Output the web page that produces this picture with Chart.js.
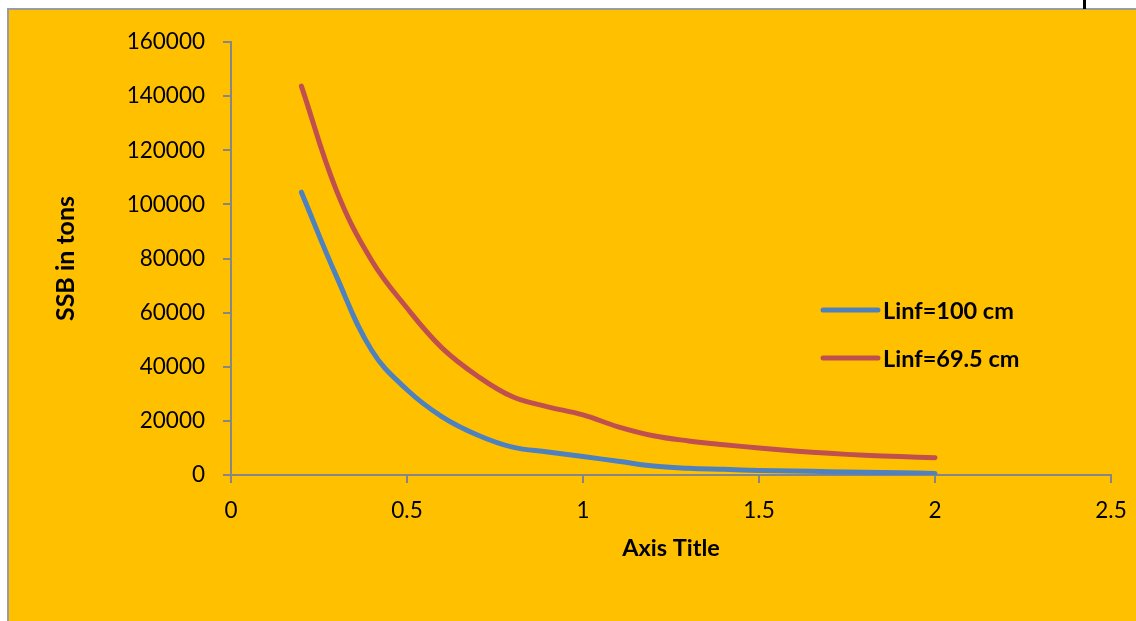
<!DOCTYPE html>
<html>
<head>
<meta charset="utf-8">
<script src="https://cdn.jsdelivr.net/npm/chart.js@4.4.1/dist/chart.umd.min.js"></script>
<style>
  html, body { margin: 0; padding: 0; background: #ffffff; width: 1136px; height: 621px; overflow: hidden; }
  #frame { position: absolute; left: 7px; top: 8px; width: 1129px; height: 613px; box-sizing: border-box;
           border-top: 2px solid #9c9c9c; border-left: 2px solid #9c9c9c; background: #FFC000; }
  #mark { position: absolute; left: 1083px; top: 0; width: 3px; height: 9px; background: #000000; }
  #wrap { position: absolute; left: 9px; top: 10px; width: 1127px; height: 611px; }
</style>
</head>
<body>
<div id="frame"></div>
<div id="mark"></div>
<div id="wrap"><canvas id="c" width="1127" height="611"></canvas></div>
<script>
// x values of the two SSB curves
const xValues = [0.2, 0.3, 0.4, 0.5, 0.6, 0.7, 0.8, 0.9, 1.0, 1.1, 1.2, 1.3, 1.4, 1.5, 1.6, 1.7, 1.8, 1.9, 2.0];
// spawning stock biomass (tons) for each asymptotic length
const ssbLinf100 = [104500, 73300, 46000, 31500, 21500, 14800, 10300, 8500, 6800, 5100, 3300, 2500, 2100, 1700, 1500, 1200, 1000, 800, 600];
const ssbLinf695 = [143700, 105000, 79200, 61700, 46900, 36600, 28900, 25200, 22200, 17800, 14500, 12600, 11200, 10000, 8900, 8000, 7300, 6800, 6400];
const seriesNames = ['Linf=100 cm', 'Linf=69.5 cm'];
const seriesColors = ['#4F81BD', '#C0504D'];
// axis ticks and titles
const xTicks = [0, 0.5, 1, 1.5, 2, 2.5];
const yTicks = [0, 20000, 40000, 60000, 80000, 100000, 120000, 140000, 160000];
const xTitle = 'Axis Title';
const yTitle = 'SSB in tons';

const FONT = 'Lato, "Open Sans", "Liberation Sans", sans-serif';
const AXIS_GREY = '#868686';

const toPoints = (ys) => xValues.map((x, i) => ({ x: x, y: ys[i] }));

// legend drawn inside the plot, to the right of the curves
const innerLegend = {
  id: 'innerLegend',
  afterDatasetsDraw(chart) {
    const ctx = chart.ctx;
    const x0 = 814, x1 = 869, rows = [300, 348];
    ctx.save();
    chart.data.datasets.forEach((ds, i) => {
      const y = rows[i];
      ctx.strokeStyle = ds.borderColor;
      ctx.lineWidth = 5;
      ctx.lineCap = 'round';
      ctx.beginPath();
      ctx.moveTo(x0, y);
      ctx.lineTo(x1, y);
      ctx.stroke();
      ctx.fillStyle = '#000000';
      ctx.font = 'bold 23.5px ' + FONT;
      ctx.textBaseline = 'middle';
      ctx.textAlign = 'left';
      ctx.fillText(ds.label, x1 + 5, y + 1);
    });
    ctx.restore();
  }
};

new Chart(document.getElementById('c'), {
  type: 'line',
  data: {
    datasets: [
      { label: seriesNames[0], data: toPoints(ssbLinf100), borderColor: seriesColors[0] },
      { label: seriesNames[1], data: toPoints(ssbLinf695), borderColor: seriesColors[1] }
    ].map(d => Object.assign(d, {
      borderWidth: 5,
      pointRadius: 0,
      pointHoverRadius: 0,
      fill: false,
      tension: 0.4,
      borderCapStyle: 'round',
      borderJoinStyle: 'round'
    }))
  },
  options: {
    responsive: false,
    animation: false,
    devicePixelRatio: 1,
    layout: { padding: { left: 0, right: 25, top: 32, bottom: 0 } },
    plugins: { legend: { display: false }, tooltip: { enabled: false } },
    scales: {
      x: {
        type: 'linear',
        min: 0, max: 2.5,
        afterBuildTicks: (s) => { s.ticks = xTicks.map(v => ({ value: v })); },
        afterFit: (s) => { s.height = 146; s.paddingLeft = 0; s.paddingRight = 0; },
        ticks: { color: '#000000', font: { family: FONT, size: 22.5 }, padding: 14, maxRotation: 0,
                 callback: (v) => String(v) },
        grid: { drawOnChartArea: false, drawTicks: true, tickLength: 8, color: AXIS_GREY, lineWidth: 2 },
        border: { display: true, color: AXIS_GREY, width: 2 },
        title: { display: true, text: xTitle, color: '#000000',
                 font: { family: FONT, size: 23.5, weight: 'bold' }, padding: { top: 0, bottom: 58 } }
      },
      y: {
        min: 0, max: 160000,
        afterBuildTicks: (s) => { s.ticks = yTicks.map(v => ({ value: v })); },
        afterFit: (s) => { s.width = 222; },
        ticks: { color: '#000000', font: { family: FONT, size: 22.5 }, padding: 18,
                 callback: (v) => String(v) },
        grid: { drawOnChartArea: false, drawTicks: true, tickLength: 8, color: AXIS_GREY, lineWidth: 2 },
        border: { display: true, color: AXIS_GREY, width: 2 },
        title: { display: true, text: yTitle, color: '#000000',
                 font: { family: FONT, size: 25, weight: 'bold' }, padding: { top: 42, bottom: 0 } }
      }
    }
  },
  plugins: [innerLegend]
});
</script>
</body>
</html>
